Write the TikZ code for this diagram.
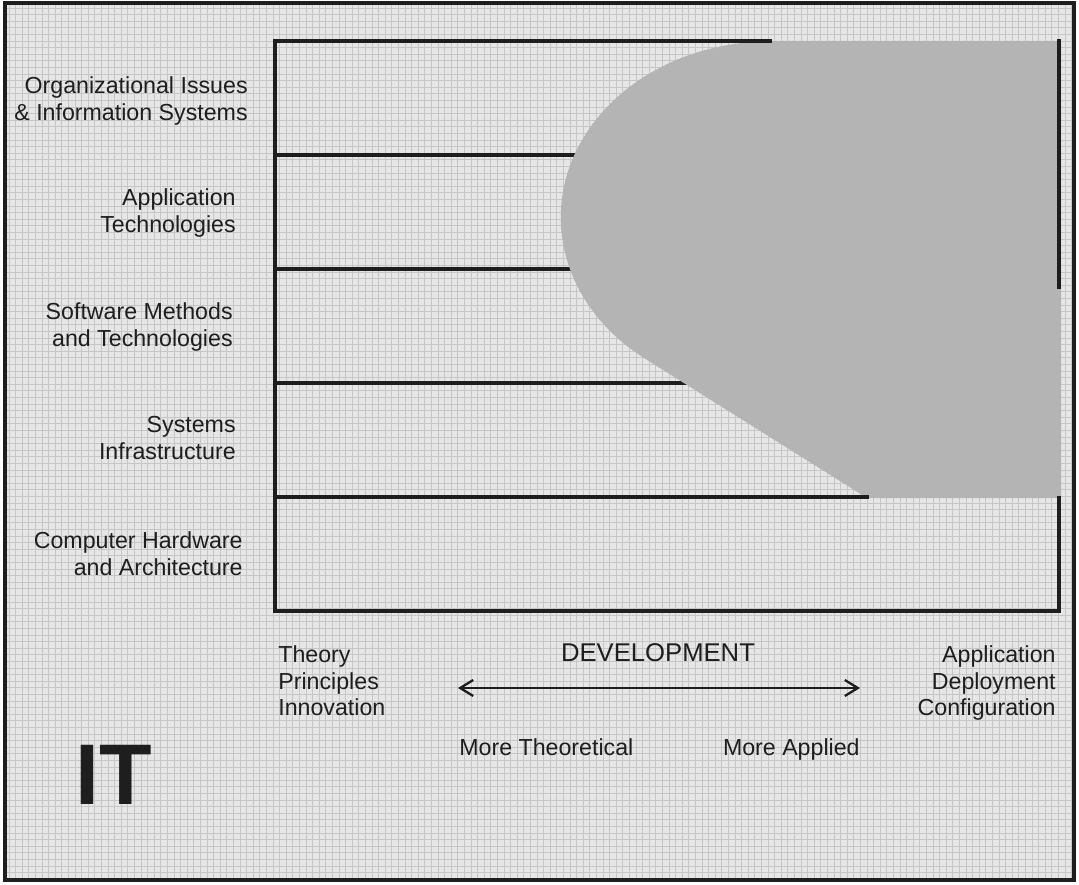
\documentclass[tikz,border=0pt]{standalone}
\usepackage{fontspec}
\setmainfont{Liberation Sans}
\usetikzlibrary{arrows.meta, positioning}
\definecolor{paper}{HTML}{E6E6E6}
\definecolor{gridline}{HTML}{C6C6C6}
\definecolor{blob}{HTML}{B4B4B4}
\definecolor{ink}{HTML}{1E1E1E}

\begin{document}
\begin{tikzpicture}[
    x=0.02cm, y=-0.02cm,
    every node/.style={inner sep=0pt, text=ink, font=\fontsize{13.2}{15.3}\selectfont},
    rowlabel/.style={anchor=north east, align=right},
    rule/.style={draw=ink, line width=1.8pt, line cap=rect},
    arrow/.style={{Straight Barb[length=2.6mm, width=3.2mm]}-{Straight Barb[length=2.6mm, width=3.2mm]}, line width=1.3pt, color=ink}
]
\useasboundingbox (0,0) rectangle (1079,885);
\fill[white] (0,0) rectangle (1079,885);
\fill[paper] (5,3) rectangle (1074,880);
% grid paper
\foreach \gx in {9,15.6,...,1072} \draw[gridline, line width=0.4pt] (\gx,3) -- (\gx,880);
\foreach \gy in {8,14.6,...,878} \draw[gridline, line width=0.4pt] (5,\gy) -- (1074,\gy);

% rows hidden behind the shaded area
\draw[rule] (275,155) -- (620,155);
\draw[rule] (275,269) -- (620,269);
\draw[rule] (275,383) -- (700,383);

% shaded area
\fill[blob] (770,41) -- (1061,41) -- (1061,498) -- (867,498) -- (644,358)
    arc[start angle=127, end angle=270, x radius=209, y radius=176] -- cycle;

% frame of the chart
\draw[rule] (770,41) -- (275,41) -- (275,611) -- (1059,611) -- (1059,498);
\draw[rule] (1059,41) -- (1059,287);
\draw[rule] (275,497) -- (867,497);
\draw[ink, line width=2.2pt] (5,3) rectangle (1074,880);

% row labels
\node[rowlabel] (r1) at (248,76) {Organizational Issues\\\& Information Systems};
\node[rowlabel] (r2) at (236,188) {Application\\Technologies};
\node[rowlabel] (r3) at (233,302) {Software Methods\\and Technologies};
\node[rowlabel] (r4) at (236,416) {Systems\\Infrastructure};
\node[rowlabel] (r5) at (243,531) {Computer Hardware\\and Architecture};

% scale below the chart
\node[anchor=north west, align=left] (theory) at (278,645) {Theory\\Principles\\Innovation};
\node[anchor=north east, align=right] (applied) at (1056,645) {Application\\Deployment\\Configuration};
\node[anchor=base, font=\fontsize{14.6}{16}\selectfont] (devel) at (658,661) {DEVELOPMENT};
\coordinate (al) at (458,688);
\coordinate (ar) at (860,688);
\draw[arrow] (al) -- (ar);
\node[anchor=base west] (morethe) at (459,755) {More Theoretical};
\node[anchor=base east] (moreapp) at (860,755) {More Applied};

\node[anchor=north west, font=\fontsize{49}{52}\selectfont\bfseries] (itlabel) at (75,745) {IT};
\end{tikzpicture}
\end{document}
